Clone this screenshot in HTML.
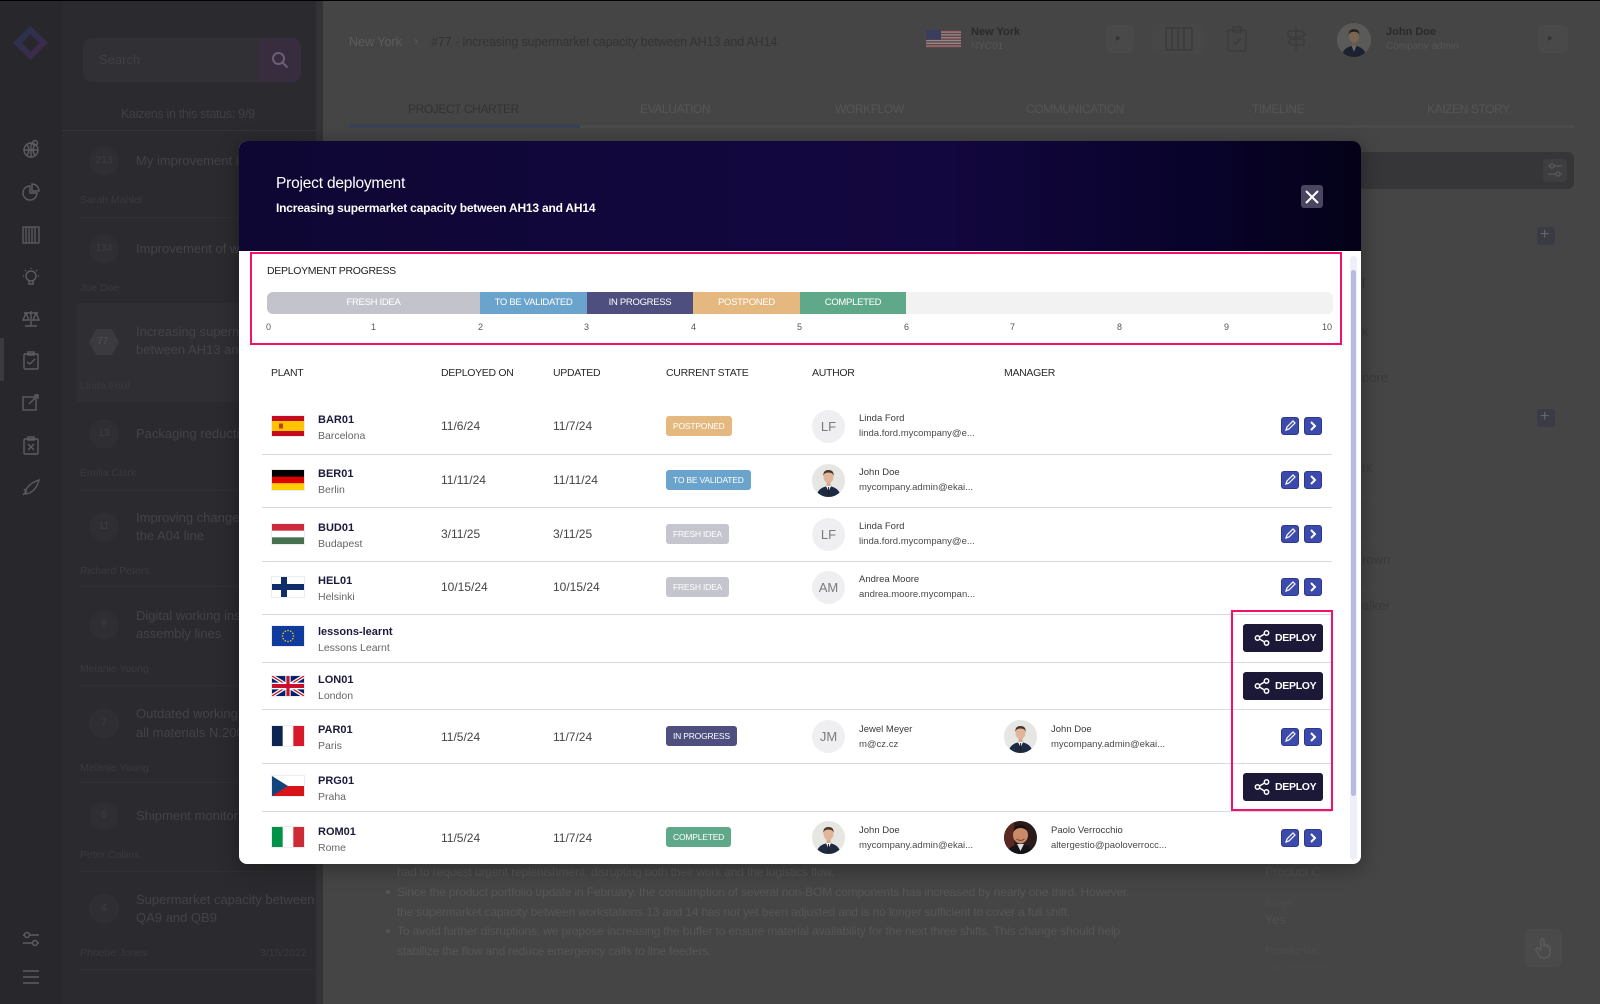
<!DOCTYPE html>
<html><head><meta charset="utf-8">
<style>
*{margin:0;padding:0;box-sizing:border-box}
body{width:1600px;height:1004px;overflow:hidden;background:#444;font-family:"Liberation Sans",sans-serif}
#root{position:relative;width:1600px;height:1004px;overflow:hidden;background:#454545}
.a{position:absolute}
.t{position:absolute;white-space:nowrap}
.sep{position:absolute;left:262px;width:1070px;height:1px;background:#d9d9e1}
.flag{position:absolute;left:272px;width:32px;height:20px;box-shadow:0 0 0 1px #ececf0}
.flag svg{display:block;width:32px;height:20px}
.code{position:absolute;left:318px;font-size:11px;font-weight:bold;color:#1b1a3a;line-height:14px;white-space:nowrap}
.pn{position:absolute;left:318px;font-size:10.5px;color:#666;line-height:14px;white-space:nowrap}
.dt{position:absolute;font-size:12px;color:#444;line-height:16px;white-space:nowrap}
.bd{position:absolute;left:666px;height:20px;line-height:20px;padding:0 7px;border-radius:3px;color:#fff;font-size:8.5px;letter-spacing:-0.2px;white-space:nowrap}
.av{position:absolute;width:33px;height:33px;border-radius:50%;overflow:hidden;background:#efeff1;color:#7a7a7a;font-size:13px;text-align:center;line-height:33px}
.av svg{display:block}
.nm{position:absolute;font-size:9.5px;color:#3a3a3a;line-height:12px;white-space:nowrap}
.em{position:absolute;font-size:9.5px;color:#4a4a4a;line-height:12px;white-space:nowrap}
.eb{position:absolute;width:18px;height:18px;border-radius:3px;background:#3c4aab;border:1px solid #2c3890}
.eb svg{display:block}
.dp{position:absolute;left:1243px;width:80px;height:28px;border-radius:3px;background:#1b1838;color:#fff;font-size:10.5px;font-weight:bold;letter-spacing:-0.3px;line-height:28px;white-space:nowrap}
.dp svg{position:absolute;left:11px;top:6px}
.dp span{position:absolute;left:32px;top:0}
.th{position:absolute;top:365px;font-size:10.5px;color:#2a2a2a;letter-spacing:-0.3px;line-height:16px;white-space:nowrap}
.tk{position:absolute;top:321px;font-size:9px;color:#555;line-height:12px}
.seg{position:absolute;top:0;height:22px;line-height:22px;text-align:center;color:#fff;font-size:9.5px;letter-spacing:-0.3px;white-space:nowrap}
.ri{position:absolute;left:21px}
.sbn{position:absolute;left:89px;width:30px;height:30px;border-radius:50%;background:#2f2f33;color:#3e3e42;font-size:10px;text-align:center;line-height:30px}
.sbt{position:absolute;left:136px;font-size:13px;color:#434347;line-height:18px;white-space:nowrap}
.sba{position:absolute;left:80px;font-size:10.5px;color:#3a3a3e;line-height:14px;white-space:nowrap}
.sbl{position:absolute;left:79px;width:238px;height:1px;background:#303034}
.tab{position:absolute;top:101px;font-size:12px;letter-spacing:-0.4px;color:#555;line-height:16px;white-space:nowrap}
.bg1{position:absolute;font-size:12px;color:#565656;line-height:16px;white-space:nowrap;letter-spacing:-0.15px}
</style></head><body><div id="root">

<div class="a" style="left:0;top:0;width:1600px;height:1px;background:#000"></div>
<div class="a" style="left:0;top:1px;width:62px;height:1003px;background:#28282c"></div>
<div class="a" style="left:62px;top:1px;width:261px;height:1003px;background:#2b2b2f"></div>
<div class="a" style="left:316px;top:1px;width:7px;height:1003px;background:#333336"></div>

<svg class="a" style="left:12px;top:25px" width="37" height="36" viewBox="0 0 37 36"><defs><linearGradient id="lg" x1="0" y1="0" x2="1" y2="1"><stop offset="0" stop-color="#25344f"/><stop offset="1" stop-color="#432848"/></linearGradient></defs><path d="M18.5 1 L36 18 L18.5 35 L1 18Z" fill="url(#lg)"/><path d="M18.5 9 L27 18 L18.5 27 L10 18Z" fill="#28282c"/></svg>

<svg class="ri" style="top:139px" width="20" height="20" viewBox="0 0 20 20" fill="none" stroke="#5c5c61" stroke-width="1.4"><circle cx="10" cy="11" r="7"/><path d="M3 11h14M10 4v14M6 6q4 5 0 10M14 6q-4 5 0 10"/><circle cx="14" cy="4" r="2.5"/></svg>
<svg class="ri" style="top:182px" width="20" height="20" viewBox="0 0 20 20" fill="none" stroke="#5c5c61" stroke-width="1.4"><path d="M9 4a7 7 0 1 0 7 7H9z"/><path d="M11 2v7h7a7 7 0 0 0-7-7z"/></svg>
<svg class="ri" style="top:225px" width="20" height="20" viewBox="0 0 20 20" fill="none" stroke="#5c5c61" stroke-width="1.3"><rect x="2" y="2" width="16" height="16"/><path d="M5 2v16M8 2v16M11 2v16M14 2v16"/></svg>
<svg class="ri" style="top:267px" width="20" height="20" viewBox="0 0 20 20" fill="none" stroke="#5c5c61" stroke-width="1.4"><circle cx="10" cy="9" r="5"/><path d="M8 14v3h4v-3M10 1v1M2 9h1M17 9h1M4 3l1 1M16 3l-1 1"/></svg>
<svg class="ri" style="top:308px" width="20" height="20" viewBox="0 0 20 20" fill="none" stroke="#5c5c61" stroke-width="1.4"><path d="M10 3v15M4 18h12M3 5h14M5 5l-3 7h6zM15 5l-3 7h6z"/></svg>
<svg class="ri" style="top:350px" width="20" height="20" viewBox="0 0 20 20" fill="none" stroke="#5c5c61" stroke-width="1.4"><rect x="3" y="4" width="14" height="15" rx="1"/><rect x="7" y="2" width="6" height="3"/><path d="M6 12l3 2 5-5"/></svg>
<svg class="ri" style="top:392px" width="20" height="20" viewBox="0 0 20 20" fill="none" stroke="#5c5c61" stroke-width="1.4"><rect x="2" y="5" width="13" height="13"/><path d="M8 12l9-9M13 3h4v4"/></svg>
<svg class="ri" style="top:435px" width="20" height="20" viewBox="0 0 20 20" fill="none" stroke="#5c5c61" stroke-width="1.4"><rect x="3" y="4" width="14" height="15" rx="1"/><rect x="7" y="2" width="6" height="3"/><path d="M7 9l6 6M13 9l-6 6"/></svg>
<svg class="ri" style="top:477px" width="20" height="20" viewBox="0 0 20 20" fill="none" stroke="#5c5c61" stroke-width="1.4"><path d="M4 16q2-9 14-13q-3 12-13 14zM3 12l3 3M2 18l3-3"/></svg>
<div class="a" style="left:0;top:338px;width:4px;height:43px;background:#3a3a40"></div>
<svg class="ri" style="top:929px" width="20" height="20" viewBox="0 0 20 20" fill="none" stroke="#5c5c61" stroke-width="1.5"><path d="M2 6h16M2 14h16"/><circle cx="6" cy="6" r="2.5" fill="#28282c"/><circle cx="14" cy="14" r="2.5" fill="#28282c"/></svg>
<svg class="ri" style="top:967px" width="20" height="20" viewBox="0 0 20 20" fill="none" stroke="#5c5c61" stroke-width="1.6"><path d="M2 4h16M2 10h16M2 16h16"/></svg>

<div class="a" style="left:83px;top:38px;width:218px;height:44px;border-radius:10px;background:#313135"></div>
<div class="a" style="left:258px;top:38px;width:43px;height:44px;border-radius:0 10px 10px 0;background:#372d3f"></div>
<svg class="a" style="left:271px;top:51px" width="18" height="18" viewBox="0 0 18 18" fill="none" stroke="#6e5c78" stroke-width="2"><circle cx="7.5" cy="7.5" r="5.5"/><path d="M11.5 11.5l5 5"/></svg>
<div class="t" style="left:99px;top:52px;font-size:13px;color:#3f3f44;line-height:16px">Search</div>
<div class="t" style="left:121px;top:106px;font-size:12.5px;color:#404044;line-height:16px;letter-spacing:-0.3px">Kaizens in this status: 9/9</div>
<div class="a" style="left:62px;top:130px;width:260px;height:1px;background:#343438"></div>

<div class="sbn" style="top:146px">213</div><div class="sbt" style="top:152px">My improvement ide</div><div class="sba" style="top:193px">Sarah Mahler</div>
<div class="sbl" style="top:217px"></div>
<div class="sbn" style="top:234px">134</div><div class="sbt" style="top:240px">Improvement of wo</div><div class="sba" style="top:281px">Joe Doe</div>
<div class="a" style="left:77px;top:303px;width:246px;height:99px;background:#2f2f33"></div>
<svg class="a" style="left:88px;top:328px" width="32" height="28" viewBox="0 0 32 28"><path d="M8 1h16l7 13-7 13H8L1 14z" fill="#3b3b3f"/></svg>
<div class="t" style="left:97px;top:336px;font-size:10px;color:#505054;line-height:12px">77</div>
<div class="sbt" style="top:323px">Increasing superma</div><div class="sbt" style="top:341px">between AH13 and</div><div class="sba" style="top:379px">Linda Ford</div>
<div class="sbn" style="top:419px">13</div><div class="sbt" style="top:425px">Packaging reduction</div><div class="sba" style="top:466px">Emilia Clark</div>
<div class="sbl" style="top:490px"></div>
<div class="sbn" style="top:512px">11</div><div class="sbt" style="top:509px">Improving changeov</div><div class="sbt" style="top:527px">the A04 line</div><div class="sba" style="top:564px">Richard Peters</div>
<div class="sbl" style="top:586px"></div>
<div class="sbn" style="top:610px">8</div><div class="sbt" style="top:607px">Digital working instr</div><div class="sbt" style="top:625px">assembly lines</div><div class="sba" style="top:662px">Melanie Young</div>
<div class="sbl" style="top:685px"></div>
<div class="sbn" style="top:708px">7</div><div class="sbt" style="top:705px">Outdated working in</div><div class="sbt" style="top:724px">all materials N.200 s</div><div class="sba" style="top:761px">Melanie Young</div>
<div class="sbl" style="top:782px"></div>
<div class="sbn" style="top:801px">5</div><div class="sbt" style="top:807px">Shipment monitor</div><div class="sba" style="top:848px">Peter Collins</div>
<div class="sbl" style="top:871px"></div>
<div class="sbn" style="top:894px">4</div><div class="sbt" style="top:891px">Supermarket capacity between</div><div class="sbt" style="top:909px">QA9 and QB9</div><div class="sba" style="top:946px">Phoebe Jones</div><div class="t" style="left:260px;top:946px;font-size:10.5px;color:#3a3a3e;line-height:14px">3/15/2022</div>
<div class="sbl" style="top:969px"></div>

<div class="t" style="left:349px;top:34px;font-size:12.5px;color:#5c5c5c;line-height:16px">New York</div>
<div class="t" style="left:414px;top:33px;font-size:12px;color:#5c5c5c;line-height:16px">›</div>
<div class="t" style="left:431px;top:34px;font-size:12.5px;color:#333;line-height:16px;letter-spacing:-0.15px">#77 - Increasing supermarket capacity between AH13 and AH14</div>
<svg class="a" style="left:926px;top:30px" width="35" height="18" viewBox="0 0 35 18"><rect width="35" height="18" fill="#8a8a8a"/><g fill="#6e3f42"><rect y="0" width="35" height="1.4"/><rect y="2.8" width="35" height="1.4"/><rect y="5.6" width="35" height="1.4"/><rect y="8.4" width="35" height="1.4"/><rect y="11.2" width="35" height="1.4"/><rect y="14" width="35" height="1.4"/><rect y="16.6" width="35" height="1.4"/></g><rect width="15" height="9.8" fill="#3a3d5c"/></svg>
<div class="t" style="left:971px;top:25px;font-size:11px;font-weight:bold;color:#2a2a2a;line-height:14px">New York</div>
<div class="t" style="left:971px;top:40px;font-size:10px;color:#555;line-height:14px">NYC01</div>
<div class="a" style="left:1106px;top:25px;width:28px;height:28px;border-radius:6px;background:#494949"></div>
<div class="t" style="left:1116px;top:32px;font-size:10px;color:#333;line-height:14px">▸</div>
<div class="a" style="left:1152px;top:24px;width:52px;height:30px;border-radius:6px;background:#474747"></div>
<svg class="a" style="left:1165px;top:27px" width="28" height="24" viewBox="0 0 28 24" fill="none" stroke="#3a3a3a" stroke-width="1.3"><rect x="1" y="1" width="26" height="22"/><path d="M7 1v22M13 1v22M19 1v22"/></svg>
<svg class="a" style="left:1227px;top:26px" width="20" height="26" viewBox="0 0 20 26" fill="none" stroke="#3a3a3a" stroke-width="1.3"><rect x="1" y="4" width="18" height="21" rx="2"/><rect x="6" y="1" width="8" height="5"/><path d="M6 15l3 3 5-6"/></svg>
<svg class="a" style="left:1284px;top:26px" width="24" height="26" viewBox="0 0 24 26" fill="none" stroke="#3a3a3a" stroke-width="1.3"><path d="M12 1v24M4 5h14l3 3-3 3H4zM20 13H7l-3 3 3 3h13z"/></svg>
<div class="a" style="left:1337px;top:23px;width:34px;height:34px;border-radius:50%;overflow:hidden;background:#555"><svg width="34" height="34" viewBox="0 0 33 33"><rect width="33" height="33" fill="#5a5a58"/><path d="M4 33 Q6 23 16.5 22 Q27 23 29 33Z" fill="#1d2230"/><path d="M14 22 L16.5 28 L19 22Z" fill="#6a6a6a"/><rect x="14.5" y="17" width="4" height="5" fill="#6e5a4c"/><ellipse cx="16.5" cy="13" rx="5" ry="6" fill="#7a6454"/><path d="M11.3 12 Q11 6 16.5 6 Q22 6 21.7 12 Q21 8.5 16.5 8.5 Q12 8.5 11.3 12Z" fill="#2a2019"/></svg></div>
<div class="t" style="left:1386px;top:25px;font-size:11px;font-weight:bold;color:#2a2a2a;line-height:14px">John Doe</div>
<div class="t" style="left:1386px;top:40px;font-size:10px;color:#555;line-height:14px">Company admin</div>
<div class="a" style="left:1538px;top:25px;width:30px;height:28px;border-radius:6px;background:#494949"></div>
<div class="t" style="left:1548px;top:32px;font-size:10px;color:#333;line-height:14px">▸</div>

<div class="a" style="left:349px;top:125px;width:1225px;height:3px;background:#4b4b4b"></div>
<div class="a" style="left:349px;top:124px;width:231px;height:4px;background:#3a4152"></div>
<div class="tab" style="left:408px;color:#333">PROJECT CHARTER</div>
<div class="tab" style="left:640px">EVALUATION</div>
<div class="tab" style="left:835px">WORKFLOW</div>
<div class="tab" style="left:1026px">COMMUNICATION</div>
<div class="tab" style="left:1252px">TIMELINE</div>
<div class="tab" style="left:1427px">KAIZEN STORY</div>

<div class="a" style="left:1340px;top:152px;width:234px;height:37px;border-radius:6px;background:#363638"></div>
<div class="a" style="left:1543px;top:159px;width:24px;height:23px;border-radius:4px;background:#3e3e40"></div>
<svg class="a" style="left:1547px;top:162px" width="16" height="16" viewBox="0 0 16 16" fill="none" stroke="#5a5a5c" stroke-width="1.3"><path d="M1 4h14M1 12h14"/><circle cx="5" cy="4" r="2" fill="#3e3e40"/><circle cx="11" cy="12" r="2" fill="#3e3e40"/></svg>
<div class="a" style="left:1537px;top:227px;width:18px;height:18px;border-radius:3px;background:#3b3b45"></div>
<div class="t" style="left:1540px;top:226px;font-size:16px;color:#66666c;line-height:18px">+</div>
<div class="a" style="left:1537px;top:409px;width:18px;height:18px;border-radius:3px;background:#3b3b45"></div>
<div class="t" style="left:1540px;top:408px;font-size:16px;color:#66666c;line-height:18px">+</div>
<div class="t" style="left:1362px;top:276px;font-size:13px;color:#333;line-height:16px">l</div>
<div class="t" style="left:1362px;top:324px;font-size:13px;color:#3a3a3a;line-height:16px">k</div>
<div class="t" style="left:1362px;top:370px;font-size:13px;color:#3a3a3a;line-height:16px">oore</div>
<div class="t" style="left:1362px;top:460px;font-size:13px;color:#3a3a3a;line-height:16px">rk</div>
<div class="t" style="left:1362px;top:492px;font-size:9.5px;color:#4a4a4a;line-height:12px">er</div>
<div class="t" style="left:1362px;top:537px;font-size:9.5px;color:#4a4a4a;line-height:12px">er</div>
<div class="t" style="left:1362px;top:552px;font-size:13px;color:#3a3a3a;line-height:16px">rown</div>
<div class="t" style="left:1362px;top:584px;font-size:9.5px;color:#4a4a4a;line-height:12px">er</div>
<div class="t" style="left:1362px;top:598px;font-size:13px;color:#3a3a3a;line-height:16px">alker</div>

<div class="bg1" style="left:397px;top:864px">had to request urgent replenishment, disrupting both their work and the logistics flow.</div>
<div class="a" style="left:386px;top:890px;width:4px;height:4px;border-radius:50%;background:#565656"></div>
<div class="bg1" style="left:397px;top:884px">Since the product portfolio update in February, the consumption of several non-BOM components has increased by nearly one third. However,</div>
<div class="bg1" style="left:397px;top:904px">the supermarket capacity between workstations 13 and 14 has not yet been adjusted and is no longer sufficient to cover a full shift.</div>
<div class="a" style="left:386px;top:929px;width:4px;height:4px;border-radius:50%;background:#565656"></div>
<div class="bg1" style="left:397px;top:923px">To avoid further disruptions, we propose increasing the buffer to ensure material availability for the next three shifts. This change should help</div>
<div class="bg1" style="left:397px;top:943px">stabilize the flow and reduce emergency calls to line feeders.</div>
<div class="t" style="left:1265px;top:864px;font-size:12.5px;color:#505050;line-height:16px">Product C</div>
<div class="t" style="left:1265px;top:897px;font-size:9px;color:#4d4d4d;line-height:12px">Budget</div>
<div class="t" style="left:1265px;top:912px;font-size:12.5px;color:#505050;line-height:16px">Yes</div>
<div class="t" style="left:1265px;top:944px;font-size:9px;color:#4d4d4d;line-height:12px">Project group</div>
<div class="t" style="left:1265px;top:959px;font-size:12px;color:#484848;line-height:16px">Not selected</div>
<div class="a" style="left:1525px;top:929px;width:37px;height:38px;border-radius:6px;background:#4a4a4a"></div>
<svg class="a" style="left:1534px;top:937px" width="20" height="22" viewBox="0 0 20 22" fill="none" stroke="#5c5c5c" stroke-width="1.3"><path d="M7 12V3a1.5 1.5 0 0 1 3 0v7M10 9a1.5 1.5 0 0 1 3 0v2M13 10a1.5 1.5 0 0 1 3 0v5q0 6-6 6q-4 0-6-4l-2-4a1.5 1.5 0 0 1 3-1l2 2"/></svg>

<!-- MODAL -->
<div class="a" style="left:239px;top:141px;width:1122px;height:723px;border-radius:8px;background:#fff;overflow:hidden;box-shadow:0 4px 20px rgba(0,0,0,0.35)">
  <div class="a" style="left:0;top:0;width:1122px;height:110px;background:linear-gradient(90deg,#0e0733 0%,#12073d 40%,#13073f 62%,#08032a 86%,#040118 100%)"></div>
</div>
<div class="t" style="left:276px;top:174px;font-size:15.5px;color:#fff;line-height:20px;letter-spacing:-0.2px">Project deployment</div>
<div class="t" style="left:276px;top:200px;font-size:12px;font-weight:bold;color:#fff;line-height:16px;letter-spacing:-0.2px">Increasing supermarket capacity between AH13 and AH14</div>
<div class="a" style="left:1301px;top:185px;width:22px;height:23px;border-radius:3px;background:#4a4560"></div>
<svg class="a" style="left:1304px;top:189px" width="16" height="16" viewBox="0 0 16 16" stroke="#fff" stroke-width="2"><path d="M2 2l12 12M14 2L2 14"/></svg>

<div class="a" style="left:1350px;top:256px;width:7px;height:604px;border-radius:4px;background:#eff0f7"></div>
<div class="a" style="left:1351px;top:270px;width:5px;height:526px;border-radius:3px;background:#b6bbdf"></div>

<div class="a" style="left:250px;top:252px;width:1092px;height:93px;border:2px solid #f70f6b"></div>
<div class="t" style="left:267px;top:264px;font-size:10.5px;color:#222;line-height:14px;letter-spacing:-0.3px">DEPLOYMENT PROGRESS</div>
<div class="a" style="left:267px;top:292px;width:1066px;height:22px;border-radius:6px;background:#f2f2f3;overflow:hidden">
  <div class="seg" style="left:0;width:213px;background:#c3c4cb">FRESH IDEA</div>
  <div class="seg" style="left:213px;width:107px;background:#6aa3cc">TO BE VALIDATED</div>
  <div class="seg" style="left:320px;width:106px;background:#4e4f7f">IN PROGRESS</div>
  <div class="seg" style="left:426px;width:107px;background:#e5b880">POSTPONED</div>
  <div class="seg" style="left:533px;width:106px;background:#5fa88a">COMPLETED</div>
</div>
<div class="tk" style="left:266px">0</div>
<div class="tk" style="left:371px">1</div>
<div class="tk" style="left:478px">2</div>
<div class="tk" style="left:584px">3</div>
<div class="tk" style="left:691px">4</div>
<div class="tk" style="left:797px">5</div>
<div class="tk" style="left:904px">6</div>
<div class="tk" style="left:1010px">7</div>
<div class="tk" style="left:1117px">8</div>
<div class="tk" style="left:1224px">9</div>
<div class="tk" style="left:1322px">10</div>

<div class="th" style="left:271px">PLANT</div>
<div class="th" style="left:441px">DEPLOYED ON</div>
<div class="th" style="left:553px">UPDATED</div>
<div class="th" style="left:666px">CURRENT STATE</div>
<div class="th" style="left:812px">AUTHOR</div>
<div class="th" style="left:1004px">MANAGER</div>

<div class="sep" style="top:454px"></div>
<div class="sep" style="top:507px"></div>
<div class="sep" style="top:561px"></div>
<div class="sep" style="top:614px"></div>
<div class="sep" style="top:662px"></div>
<div class="sep" style="top:709px"></div>
<div class="sep" style="top:763px"></div>
<div class="sep" style="top:811px"></div>

<!-- BAR01 c=426 -->
<div class="flag" style="top:416px"><svg viewBox="0 0 32 20" preserveAspectRatio="none"><rect width="32" height="20" fill="#c60b1e"/><rect y="5" width="32" height="10" fill="#ffc400"/><rect x="7" y="7.5" width="4" height="5" fill="#ad1519" opacity=".75"/></svg></div>
<div class="code" style="top:413px">BAR01</div><div class="pn" style="top:429px">Barcelona</div>
<div class="dt" style="left:441px;top:418px">11/6/24</div><div class="dt" style="left:553px;top:418px">11/7/24</div>
<div class="bd" style="top:416px;background:#e5b880">POSTPONED</div>
<div class="av" style="left:812px;top:410px">LF</div>
<div class="nm" style="left:859px;top:413px">Linda Ford</div><div class="em" style="left:859px;top:428px">linda.ford.mycompany@e...</div>

<!-- BER01 c=480 -->
<div class="flag" style="top:470px"><svg viewBox="0 0 32 20" preserveAspectRatio="none"><rect width="32" height="7" fill="#000"/><rect y="6.67" width="32" height="6.67" fill="#dd0000"/><rect y="13.33" width="32" height="6.67" fill="#ffce00"/></svg></div>
<div class="code" style="top:467px">BER01</div><div class="pn" style="top:483px">Berlin</div>
<div class="dt" style="left:441px;top:472px">11/11/24</div><div class="dt" style="left:553px;top:472px">11/11/24</div>
<div class="bd" style="top:470px;background:#6aa3cc">TO BE VALIDATED</div>
<div class="av" style="left:812px;top:464px"><svg width="33" height="33" viewBox="0 0 33 33"><rect width="33" height="33" fill="#e6e6e3"/><path d="M4 33 Q6 23 16.5 22 Q27 23 29 33Z" fill="#1d2a44"/><path d="M14 22 L16.5 28 L19 22Z" fill="#fff"/><path d="M16 23 L17 23 L17.6 30 L16.5 31.5 L15.4 30Z" fill="#222"/><rect x="14.5" y="17" width="4" height="5" fill="#d4a88c"/><ellipse cx="16.5" cy="13" rx="5" ry="6" fill="#e0b59a"/><path d="M11.3 12 Q11 6 16.5 6 Q22 6 21.7 12 Q21 8.5 16.5 8.5 Q12 8.5 11.3 12Z" fill="#4a3526"/></svg></div>
<div class="nm" style="left:859px;top:467px">John Doe</div><div class="em" style="left:859px;top:482px">mycompany.admin@ekai...</div>

<!-- BUD01 c=534 -->
<div class="flag" style="top:524px"><svg viewBox="0 0 32 20" preserveAspectRatio="none"><rect width="32" height="20" fill="#fff"/><rect width="32" height="6.67" fill="#cd2a3e"/><rect y="13.33" width="32" height="6.67" fill="#477050"/></svg></div>
<div class="code" style="top:521px">BUD01</div><div class="pn" style="top:537px">Budapest</div>
<div class="dt" style="left:441px;top:526px">3/11/25</div><div class="dt" style="left:553px;top:526px">3/11/25</div>
<div class="bd" style="top:524px;background:#c5c6cd">FRESH IDEA</div>
<div class="av" style="left:812px;top:518px">LF</div>
<div class="nm" style="left:859px;top:521px">Linda Ford</div><div class="em" style="left:859px;top:536px">linda.ford.mycompany@e...</div>

<!-- HEL01 c=587 -->
<div class="flag" style="top:577px"><svg viewBox="0 0 32 20" preserveAspectRatio="none"><rect width="32" height="20" fill="#fff"/><rect x="9" width="6" height="20" fill="#0f2d6b"/><rect y="7" width="32" height="6" fill="#0f2d6b"/></svg></div>
<div class="code" style="top:574px">HEL01</div><div class="pn" style="top:590px">Helsinki</div>
<div class="dt" style="left:441px;top:579px">10/15/24</div><div class="dt" style="left:553px;top:579px">10/15/24</div>
<div class="bd" style="top:577px;background:#c5c6cd">FRESH IDEA</div>
<div class="av" style="left:812px;top:571px">AM</div>
<div class="nm" style="left:859px;top:574px">Andrea Moore</div><div class="em" style="left:859px;top:589px">andrea.moore.mycompan...</div>

<!-- lessons-learnt c=638 -->
<div class="flag" style="top:626px"><svg viewBox="0 0 32 20" preserveAspectRatio="none"><rect width="32" height="20" fill="#0f3a9e"/><g fill="#ffcc00"><circle cx="16" cy="4.5" r=".8"/><circle cx="18.75" cy="5.24" r=".8"/><circle cx="20.76" cy="7.25" r=".8"/><circle cx="21.5" cy="10" r=".8"/><circle cx="20.76" cy="12.75" r=".8"/><circle cx="18.75" cy="14.76" r=".8"/><circle cx="16" cy="15.5" r=".8"/><circle cx="13.25" cy="14.76" r=".8"/><circle cx="11.24" cy="12.75" r=".8"/><circle cx="10.5" cy="10" r=".8"/><circle cx="11.24" cy="7.25" r=".8"/><circle cx="13.25" cy="5.24" r=".8"/></g></svg></div>
<div class="code" style="top:625px">lessons-learnt</div><div class="pn" style="top:641px">Lessons Learnt</div>
<div class="dp" style="top:624px"><svg width="16" height="16" viewBox="0 0 16 16" fill="none" stroke="#fff" stroke-width="1.5"><circle cx="12.5" cy="3" r="2.2"/><circle cx="3.5" cy="8" r="2.2"/><circle cx="12.5" cy="13" r="2.2"/><path d="M5.5 7l5-3M5.5 9l5 3"/></svg><span>DEPLOY</span></div>

<!-- LON01 c=686 -->
<div class="flag" style="top:676px"><svg viewBox="0 0 60 30" preserveAspectRatio="none"><rect width="60" height="30" fill="#012169"/><path d="M0,0 L60,30 M60,0 L0,30" stroke="#fff" stroke-width="6"/><path d="M0,0 L60,30 M60,0 L0,30" stroke="#C8102E" stroke-width="2"/><path d="M30,0 V30 M0,15 H60" stroke="#fff" stroke-width="10"/><path d="M30,0 V30 M0,15 H60" stroke="#C8102E" stroke-width="6"/></svg></div>
<div class="code" style="top:673px">LON01</div><div class="pn" style="top:689px">London</div>
<div class="dp" style="top:672px"><svg width="16" height="16" viewBox="0 0 16 16" fill="none" stroke="#fff" stroke-width="1.5"><circle cx="12.5" cy="3" r="2.2"/><circle cx="3.5" cy="8" r="2.2"/><circle cx="12.5" cy="13" r="2.2"/><path d="M5.5 7l5-3M5.5 9l5 3"/></svg><span>DEPLOY</span></div>

<!-- PAR01 c=737 -->
<div class="flag" style="top:726px"><svg viewBox="0 0 32 20" preserveAspectRatio="none"><rect width="11" height="20" fill="#0b2452"/><rect x="10.67" width="10.67" height="20" fill="#fff"/><rect x="21.33" width="10.67" height="20" fill="#d8192a"/></svg></div>
<div class="code" style="top:723px">PAR01</div><div class="pn" style="top:739px">Paris</div>
<div class="dt" style="left:441px;top:729px">11/5/24</div><div class="dt" style="left:553px;top:729px">11/7/24</div>
<div class="bd" style="top:726px;background:#4e4f7f">IN PROGRESS</div>
<div class="av" style="left:812px;top:720px">JM</div>
<div class="nm" style="left:859px;top:724px">Jewel Meyer</div><div class="em" style="left:859px;top:739px">m@cz.cz</div>
<div class="av" style="left:1004px;top:720px"><svg width="33" height="33" viewBox="0 0 33 33"><rect width="33" height="33" fill="#e6e6e3"/><path d="M4 33 Q6 23 16.5 22 Q27 23 29 33Z" fill="#1d2a44"/><path d="M14 22 L16.5 28 L19 22Z" fill="#fff"/><path d="M16 23 L17 23 L17.6 30 L16.5 31.5 L15.4 30Z" fill="#222"/><rect x="14.5" y="17" width="4" height="5" fill="#d4a88c"/><ellipse cx="16.5" cy="13" rx="5" ry="6" fill="#e0b59a"/><path d="M11.3 12 Q11 6 16.5 6 Q22 6 21.7 12 Q21 8.5 16.5 8.5 Q12 8.5 11.3 12Z" fill="#4a3526"/></svg></div>
<div class="nm" style="left:1051px;top:724px">John Doe</div><div class="em" style="left:1051px;top:739px">mycompany.admin@ekai...</div>

<!-- PRG01 c=787 -->
<div class="flag" style="top:776px"><svg viewBox="0 0 32 20" preserveAspectRatio="none"><rect width="32" height="10" fill="#fff"/><rect y="10" width="32" height="10" fill="#d7141a"/><path d="M0 0 L16 10 L0 20Z" fill="#11457e"/></svg></div>
<div class="code" style="top:774px">PRG01</div><div class="pn" style="top:790px">Praha</div>
<div class="dp" style="top:773px"><svg width="16" height="16" viewBox="0 0 16 16" fill="none" stroke="#fff" stroke-width="1.5"><circle cx="12.5" cy="3" r="2.2"/><circle cx="3.5" cy="8" r="2.2"/><circle cx="12.5" cy="13" r="2.2"/><path d="M5.5 7l5-3M5.5 9l5 3"/></svg><span>DEPLOY</span></div>

<!-- ROM01 c=838 -->
<div class="flag" style="top:827px"><svg viewBox="0 0 32 20" preserveAspectRatio="none"><rect width="11" height="20" fill="#009246"/><rect x="10.67" width="10.67" height="20" fill="#fff"/><rect x="21.33" width="10.67" height="20" fill="#ce2b37"/></svg></div>
<div class="code" style="top:825px">ROM01</div><div class="pn" style="top:841px">Rome</div>
<div class="dt" style="left:441px;top:830px">11/5/24</div><div class="dt" style="left:553px;top:830px">11/7/24</div>
<div class="bd" style="top:827px;background:#5fa88a">COMPLETED</div>
<div class="av" style="left:812px;top:821px"><svg width="33" height="33" viewBox="0 0 33 33"><rect width="33" height="33" fill="#e6e6e3"/><path d="M4 33 Q6 23 16.5 22 Q27 23 29 33Z" fill="#1d2a44"/><path d="M14 22 L16.5 28 L19 22Z" fill="#fff"/><path d="M16 23 L17 23 L17.6 30 L16.5 31.5 L15.4 30Z" fill="#222"/><rect x="14.5" y="17" width="4" height="5" fill="#d4a88c"/><ellipse cx="16.5" cy="13" rx="5" ry="6" fill="#e0b59a"/><path d="M11.3 12 Q11 6 16.5 6 Q22 6 21.7 12 Q21 8.5 16.5 8.5 Q12 8.5 11.3 12Z" fill="#4a3526"/></svg></div>
<div class="nm" style="left:859px;top:825px">John Doe</div><div class="em" style="left:859px;top:840px">mycompany.admin@ekai...</div>
<div class="av" style="left:1004px;top:821px"><svg width="33" height="33" viewBox="0 0 33 33"><rect width="33" height="33" fill="#2a1c1a"/><rect x="0" y="0" width="10" height="33" fill="#5a2a22"/><path d="M2 33 Q5 24 16.5 23 Q28 24 31 33Z" fill="#141418"/><path d="M13 23 L16.5 30 L20 23Z" fill="#ddd"/><ellipse cx="16.5" cy="14" rx="7.5" ry="8.5" fill="#c98a6a"/><path d="M9 11 Q10 4 16.5 4 Q23 4 24 11 Q21 7 16.5 7 Q12 7 9 11Z" fill="#1a1210"/><path d="M12.5 18 Q16.5 21 20.5 18" stroke="#7a3a2a" stroke-width="1" fill="none"/></svg></div>
<div class="nm" style="left:1051px;top:825px">Paolo Verrocchio</div><div class="em" style="left:1051px;top:840px">altergestio@paoloverrocc...</div>

<!-- edit/arrow buttons -->
<div class="eb" style="left:1281px;top:417px"><svg width="16" height="16" viewBox="0 0 16 16" fill="none" stroke="#fff" stroke-width="1.2"><path d="M4 12l1-3 6-6 2 2-6 6z"/></svg></div>
<div class="eb" style="left:1304px;top:417px"><svg width="16" height="16" viewBox="0 0 16 16" fill="none" stroke="#fff" stroke-width="2"><path d="M6 4l4 4-4 4"/></svg></div>
<div class="eb" style="left:1281px;top:471px"><svg width="16" height="16" viewBox="0 0 16 16" fill="none" stroke="#fff" stroke-width="1.2"><path d="M4 12l1-3 6-6 2 2-6 6z"/></svg></div>
<div class="eb" style="left:1304px;top:471px"><svg width="16" height="16" viewBox="0 0 16 16" fill="none" stroke="#fff" stroke-width="2"><path d="M6 4l4 4-4 4"/></svg></div>
<div class="eb" style="left:1281px;top:525px"><svg width="16" height="16" viewBox="0 0 16 16" fill="none" stroke="#fff" stroke-width="1.2"><path d="M4 12l1-3 6-6 2 2-6 6z"/></svg></div>
<div class="eb" style="left:1304px;top:525px"><svg width="16" height="16" viewBox="0 0 16 16" fill="none" stroke="#fff" stroke-width="2"><path d="M6 4l4 4-4 4"/></svg></div>
<div class="eb" style="left:1281px;top:578px"><svg width="16" height="16" viewBox="0 0 16 16" fill="none" stroke="#fff" stroke-width="1.2"><path d="M4 12l1-3 6-6 2 2-6 6z"/></svg></div>
<div class="eb" style="left:1304px;top:578px"><svg width="16" height="16" viewBox="0 0 16 16" fill="none" stroke="#fff" stroke-width="2"><path d="M6 4l4 4-4 4"/></svg></div>
<div class="eb" style="left:1281px;top:728px"><svg width="16" height="16" viewBox="0 0 16 16" fill="none" stroke="#fff" stroke-width="1.2"><path d="M4 12l1-3 6-6 2 2-6 6z"/></svg></div>
<div class="eb" style="left:1304px;top:728px"><svg width="16" height="16" viewBox="0 0 16 16" fill="none" stroke="#fff" stroke-width="2"><path d="M6 4l4 4-4 4"/></svg></div>
<div class="eb" style="left:1281px;top:829px"><svg width="16" height="16" viewBox="0 0 16 16" fill="none" stroke="#fff" stroke-width="1.2"><path d="M4 12l1-3 6-6 2 2-6 6z"/></svg></div>
<div class="eb" style="left:1304px;top:829px"><svg width="16" height="16" viewBox="0 0 16 16" fill="none" stroke="#fff" stroke-width="2"><path d="M6 4l4 4-4 4"/></svg></div>

<div class="a" style="left:1231px;top:610px;width:102px;height:201px;border:2px solid #f70f6b"></div>

</div></body></html>
